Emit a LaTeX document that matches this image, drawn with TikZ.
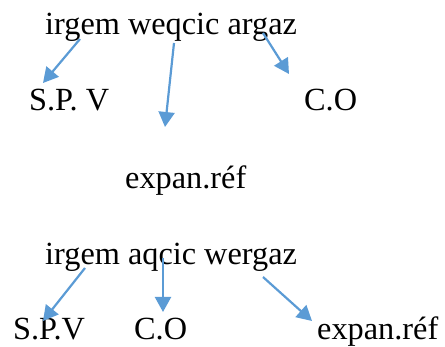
\documentclass[tikz,border=0pt]{standalone}
\usepackage{fontspec}
\setmainfont{Liberation Serif}
\usetikzlibrary{arrows.meta}
\definecolor{arrowblue}{RGB}{91,155,213}

\begin{document}
\begin{tikzpicture}[x=1pt, y=-1pt, >={Triangle[length=15pt, width=16pt]},
        word/.style={anchor=base west, inner sep=0pt, font=\fontsize{32.3}{38}\selectfont},
        link/.style={->, arrowblue, line width=2.2pt}]
        \useasboundingbox (0, 0) rectangle (445, 347);
        % first sentence
        \node[word] (s1) at (45, 35) {irgem weqcic argaz};
        \node[word] (v1) at (29, 111) {S.P. V};
        \node[word] (o1) at (304, 111) {C.O};
        \node[word] (e1) at (125, 189) {expan.réf};
        \coordinate (a1) at (80, 39);
        \coordinate (b1) at (43, 83);
        \coordinate (a2) at (174, 43);
        \coordinate (b2) at (165, 127);
        \coordinate (a3) at (263, 33);
        \coordinate (b3) at (289, 74);
        \draw[link] (a1) -- (b1);
        \draw[link] (a2) -- (b2);
        \draw[link] (a3) -- (b3);

        % second sentence
        \node[word] (s2) at (45, 265) {irgem aqcic wergaz};
        \node[word] (v2) at (13, 340) {S.P.V};
        \node[word] (o2) at (134, 340) {C.O};
        \node[word] (e2) at (317, 340) {expan.réf};
        \coordinate (c1) at (85, 268);
        \coordinate (d1) at (43, 321);
        \coordinate (c2) at (163, 258);
        \coordinate (d2) at (163, 312);
        \coordinate (c3) at (263, 277);
        \coordinate (d3) at (312, 321);
        \draw[link] (c1) -- (d1);
        \draw[link] (c2) -- (d2);
        \draw[link] (c3) -- (d3);
    \end{tikzpicture}
\end{document}
